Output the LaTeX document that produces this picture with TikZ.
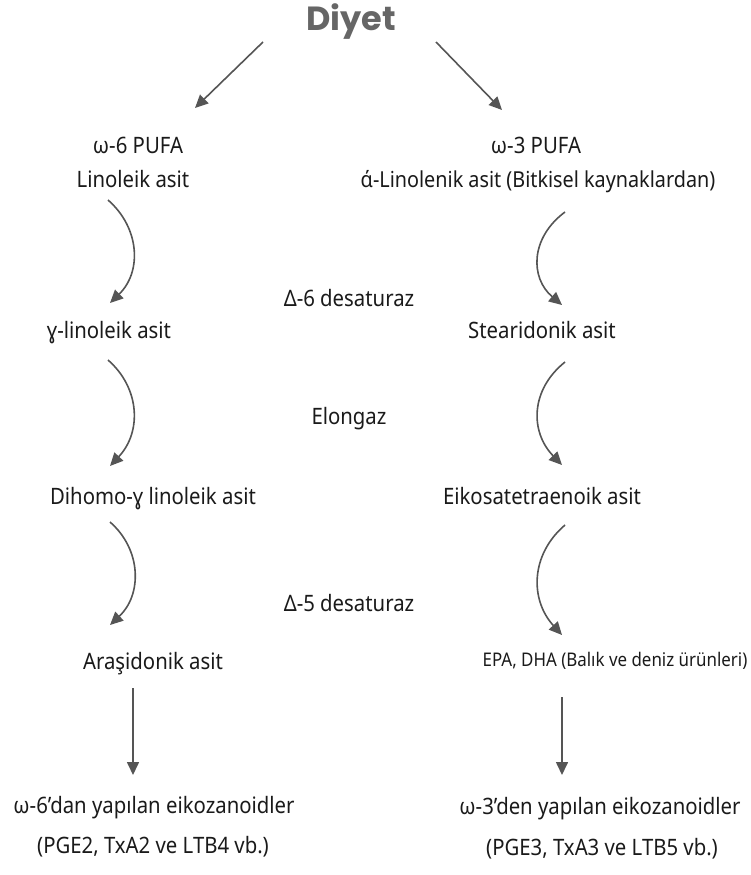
\documentclass[tikz,border=0pt]{standalone}
\usepackage{fontspec}
\setmainfont{Noto Sans}[FakeStretch=0.9]
\newfontfamily\titlefont{Poppins}
\usetikzlibrary{arrows.meta}
\definecolor{arr}{HTML}{555555}
\definecolor{ttl}{HTML}{666666}
\definecolor{txt}{HTML}{1A1A1A}
\begin{document}
\begin{tikzpicture}[x=1pt,y=-1pt,
  lbl/.style={anchor=base,inner sep=0pt,font=\fontsize{22.6}{26}\selectfont,text=txt},
  sml/.style={lbl,font=\fontsize{18.8}{22}\selectfont},
  mid/.style={lbl,font=\fontsize{22}{26}\selectfont},
  conn/.style={draw=arr,line width=1.6pt,-{Triangle[length=13pt,width=12pt]},arr}]
\useasboundingbox (0,0) rectangle (750,875);
\node[anchor=base,inner sep=0pt,text=ttl,font=\titlefont\bfseries\fontsize{33.5}{36}\selectfont] (diyet) at (351,31) {Diyet};
\node[lbl] (w6) at (138,153) {ω-6 PUFA};
\node[lbl] (lin) at (133,187) {Linoleik asit};
\node[lbl] (w3) at (536,153) {ω-3 PUFA};
\node[mid] (ala) at (538,187) {ά-Linolenik asit (Bitkisel kaynaklardan)};
\node[lbl] (d6) at (349,306) {Δ-6 desaturaz};
\node[lbl] (gla) at (109,338) {ɣ-linoleik asit};
\node[lbl] (sda) at (542,338) {Stearidonik asit};
\node[lbl] (elo) at (349,424) {Elongaz};
\node[lbl] (dgla) at (153,504) {Dihomo-ɣ linoleik asit};
\node[lbl] (eta) at (542,504) {Eikosatetraenoik asit};
\node[lbl] (d5) at (349,611) {Δ-5 desaturaz};
\node[lbl] (aa) at (153,669) {Araşidonik asit};
\node[sml] (epa) at (615,666) {EPA, DHA (Balık ve deniz ürünleri)};
\node[lbl] (e6a) at (154,813) {ω-6’dan yapılan eikozanoidler};
\node[lbl] (e6b) at (153,853) {(PGE2, TxA2 ve LTB4 vb.)};
\node[lbl] (e3a) at (600,814) {ω-3’den yapılan eikozanoidler};
\node[lbl] (e3b) at (602,855) {(PGE3, TxA3 ve LTB5 vb.)};
% connector end points
\coordinate (dl) at (263,42); \coordinate (dr) at (436,42);
\coordinate (w6t) at (195,108); \coordinate (w3t) at (502,110);
\coordinate (l1s) at (108,200); \coordinate (l1e) at (110,303);
\coordinate (l2s) at (108,360); \coordinate (l2e) at (110,466);
\coordinate (l3s) at (110,522); \coordinate (l3e) at (110,625);
\coordinate (r1s) at (565,212); \coordinate (r1e) at (562,305);
\coordinate (r2s) at (565,362); \coordinate (r2e) at (562,465);
\coordinate (r3s) at (565,525); \coordinate (r3e) at (562,635);
\coordinate (l4s) at (133,688); \coordinate (l4e) at (133,775);
\coordinate (r4s) at (562,697); \coordinate (r4e) at (562,775);
\draw[conn] (dl) -- (w6t);
\draw[conn] (dr) -- (w3t);
\draw[conn] (l1s) .. controls (140,228) and (142,272) .. (l1e);
\draw[conn] (l2s) .. controls (140,388) and (142,432) .. (l2e);
\draw[conn] (l3s) .. controls (142,550) and (142,595) .. (l3e);
\draw[conn] (r1s) .. controls (530,238) and (530,278) .. (r1e);
\draw[conn] (r2s) .. controls (530,390) and (530,432) .. (r2e);
\draw[conn] (r3s) .. controls (530,555) and (530,600) .. (r3e);
\draw[conn] (l4s) -- (l4e);
\draw[conn] (r4s) -- (r4e);
\end{tikzpicture}
\end{document}
